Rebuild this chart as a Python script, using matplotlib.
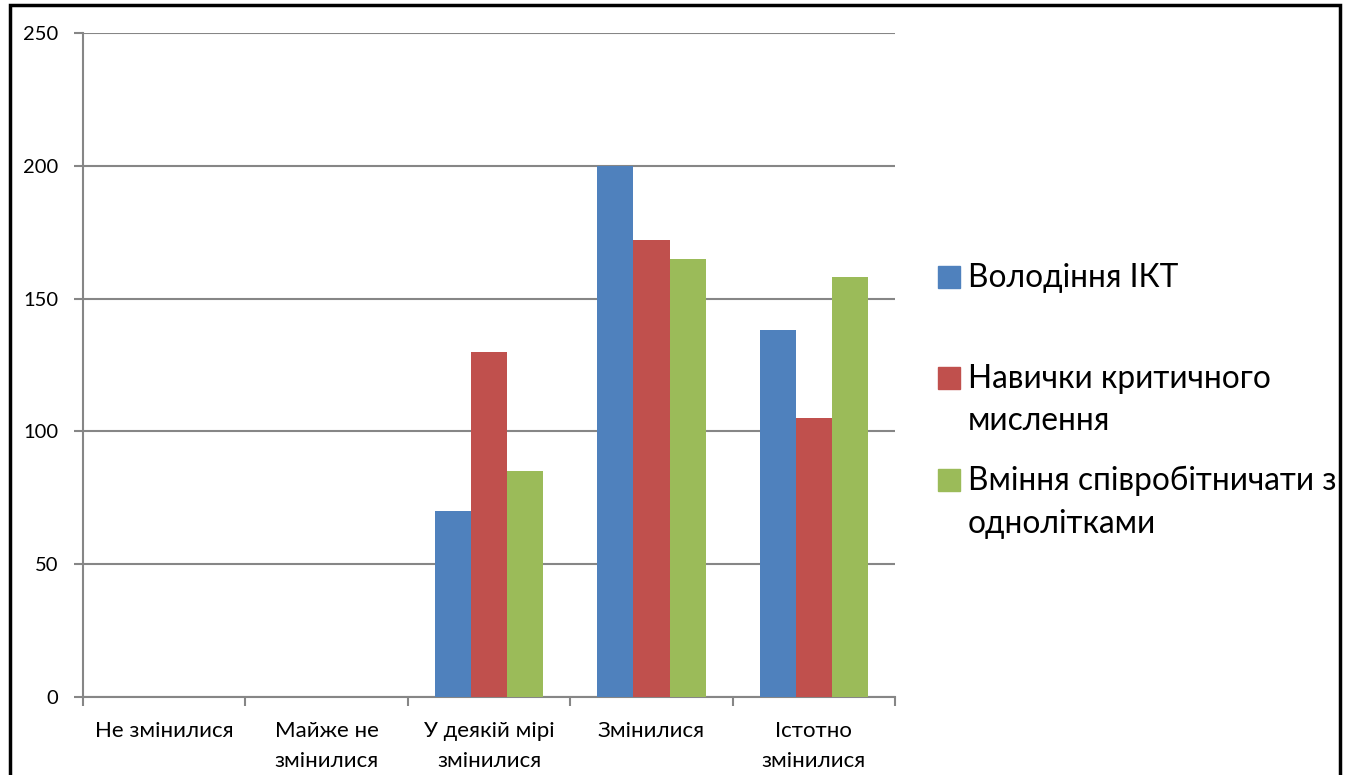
import numpy as np
import matplotlib.pyplot as plt
from matplotlib.patches import Rectangle

plt.rcParams['font.family'] = ['Lato', 'DejaVu Sans']

# дані
categories = ['Не змінилися', 'Майже не\nзмінилися', 'У деякій мірі\nзмінилися',
              'Змінилися', 'Істотно\nзмінилися']
series_names = ['Володіння ІКТ', 'Навички критичного\nмислення',
                'Вміння співробітничати з\nоднолітками']
ikt = [0, 0, 70, 200, 138]
critical = [0, 0, 130, 172, 105]
cooperate = [0, 0, 85, 165, 158]
yticks = [0, 50, 100, 150, 200, 250]

colors = ['#4F81BD', '#C0504D', '#9BBB59']
grid_color = '#868686'

fig = plt.figure(figsize=(13.46, 7.75), dpi=100)
ax = fig.add_axes([0.0617, 0.1006, 0.6033, 0.8568])

x = np.arange(len(categories))
w = 0.222
for i, (vals, c) in enumerate(zip([ikt, critical, cooperate], colors)):
    ax.bar(x + (i - 1) * w, vals, width=w, color=c, zorder=3)

ax.set_xlim(-0.5, len(categories) - 0.5)
ax.set_ylim(0, 250)
ax.set_yticks(yticks)
ax.yaxis.grid(True, color=grid_color, linewidth=1.5, zorder=0)

for s in ['top', 'right']:
    ax.spines[s].set_visible(False)
for s in ['left', 'bottom']:
    ax.spines[s].set_color(grid_color)
    ax.spines[s].set_linewidth(1.5)

ax.tick_params(axis='y', length=6.5, width=1.5, color=grid_color, labelsize=14.5, pad=11.5)
ax.set_xticks(x)
ax.set_xticklabels(categories, fontsize=16, linespacing=1.65)
ax.tick_params(axis='x', which='major', length=0, pad=17)
ax.set_xticks(np.arange(len(categories) + 1) - 0.5, minor=True)
ax.tick_params(axis='x', which='minor', length=6.5, width=1.5, color=grid_color)

# легенда: квадрат біля першого рядка підпису
leg_tops = [0.6697, 0.5394, 0.4077]
for name, c, top in zip(series_names, colors, leg_tops):
    fig.patches.append(Rectangle((938 / 1346, top - 0.0135 - 22 / 775), 22 / 1346, 22 / 775,
                                 transform=fig.transFigure, color=c))
    fig.text(968 / 1346, top - 7 / 775, name, fontsize=22.8, va='top', ha='left',
             linespacing=1.52)

# рамка
fig.patches.append(Rectangle((0.0074, -0.1), 0.988, 1.094, transform=fig.transFigure,
                             fill=False, edgecolor='black', linewidth=2.5, zorder=10))

fig.savefig('out.png', dpi=100)
